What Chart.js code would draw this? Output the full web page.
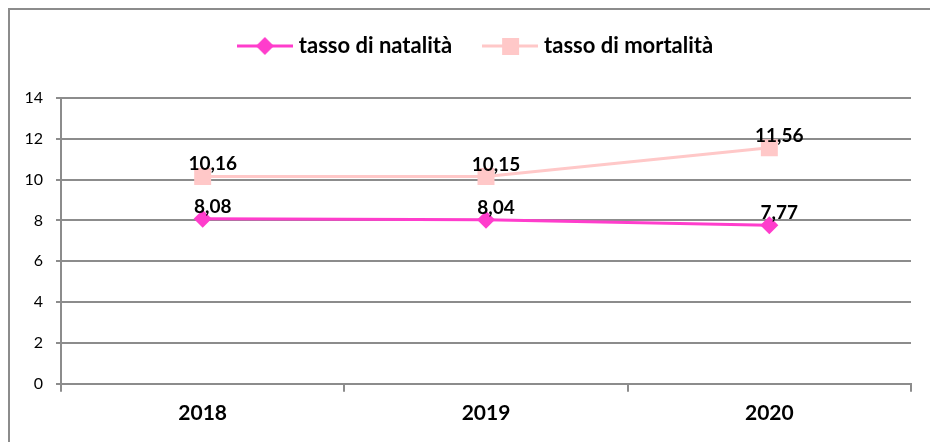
<!DOCTYPE html>
<html>
<head>
<meta charset="utf-8">
<script src="https://cdn.jsdelivr.net/npm/chart.js@4/dist/chart.umd.min.js"></script>
<style>
    html, body { margin: 0; padding: 0; background: #fff; overflow: hidden; }
    #wrap { position: relative; width: 930px; height: 442px; }
    #frame {
        position: absolute; left: 8px; top: 8px; width: 940px; height: 450px;
        border-left: 2px solid #8c8c8c; border-top: 2px solid #8c8c8c;
        pointer-events: none;
    }
</style>
</head>
<body>
<div id="wrap">
    <canvas id="chart" width="930" height="442"></canvas>
    <div id="frame"></div>
</div>
<script>
const years = ['2018', '2019', '2020'];
const natalita = [8.08, 8.04, 7.77];
const mortalita = [10.16, 10.15, 11.56];
const yTicks = [0, 2, 4, 6, 8, 10, 12, 14];

const PINK = '#ff3dcc';
const ROSE = '#ffc8c8';
const FONT = 'Lato, "Open Sans", sans-serif';

// line + marker image used as legend symbol
function legendMarker(color, shape) {
    const c = document.createElement('canvas');
    c.width = 56;
    c.height = 20;
    const ctx = c.getContext('2d');
    ctx.strokeStyle = color;
    ctx.lineWidth = 3;
    ctx.beginPath();
    ctx.moveTo(0, 10);
    ctx.lineTo(56, 10);
    ctx.stroke();
    ctx.fillStyle = color;
    ctx.beginPath();
    if (shape === 'diamond') {
        ctx.moveTo(28, 1); ctx.lineTo(37, 10); ctx.lineTo(28, 19); ctx.lineTo(19, 10);
    } else {
        ctx.rect(20, 2, 17, 17);
    }
    ctx.fill();
    return c;
}
const markers = [legendMarker(PINK, 'diamond'), legendMarker(ROSE, 'square')];

const valueLabels = {
    id: 'valueLabels',
    beforeInit(chart) {
        // leave room between legend and plot area
        const fit = chart.legend.fit;
        chart.legend.fit = function () {
            fit.call(this);
            this.height += 31;
        };
    },
    afterLayout(chart) {
        chart.legend.left += 22;
        chart.legend.right += 22;
    },
    afterDatasetsDraw(chart) {
        const ctx = chart.ctx;
        ctx.save();
        ctx.font = 'bold 19px ' + FONT;
        ctx.fillStyle = '#000';
        ctx.textAlign = 'center';
        ctx.textBaseline = 'alphabetic';
        chart.data.datasets.forEach((ds, i) => {
            chart.getDatasetMeta(i).data.forEach((pt, j) => {
                ctx.fillText(ds.data[j].toFixed(2).replace('.', ','), pt.x + 10, pt.y - 6);
            });
        });
        ctx.restore();
    }
};

new Chart(document.getElementById('chart'), {
    type: 'line',
    data: {
        labels: years,
        datasets: [{
            label: 'tasso di natalità',
            data: natalita,
            borderColor: PINK,
            backgroundColor: PINK,
            borderWidth: 3,
            pointStyle: 'rectRot',
            pointRadius: 9,
            pointBorderWidth: 0,
            tension: 0
        }, {
            label: 'tasso di mortalità',
            data: mortalita,
            borderColor: ROSE,
            backgroundColor: ROSE,
            borderWidth: 3,
            pointStyle: 'rect',
            pointRadius: 12,
            pointBorderWidth: 0,
            tension: 0
        }]
    },
    options: {
        responsive: false,
        animation: false,
        layout: { padding: { top: 0, right: 19, bottom: 7, left: 0 } },
        plugins: {
            tooltip: { enabled: false },
            legend: {
                position: 'top',
                labels: {
                    usePointStyle: true,
                    pointStyleWidth: 46,
                    padding: 35,
                    color: '#000',
                    font: { family: FONT, size: 22, weight: 'bold' },
                    generateLabels: chart => Chart.defaults.plugins.legend.labels.generateLabels(chart)
                        .map((item, i) => ({ ...item, pointStyle: markers[i] }))
                }
            }
        },
        scales: {
            x: {
                offset: true,
                grid: { offset: true, drawOnChartArea: false, drawTicks: true, tickLength: 8, color: '#8c8c8c', lineWidth: 2 },
                border: { color: '#8c8c8c', width: 2 },
                ticks: { color: '#000', padding: 9, font: { family: FONT, size: 21, weight: 'bold' } }
            },
            y: {
                min: yTicks[0],
                max: yTicks[yTicks.length - 1],
                afterFit(scale) { scale.width = 61; },
                grid: { color: '#8c8c8c', lineWidth: 2, tickLength: 5 },
                border: { color: '#8c8c8c', width: 2 },
                ticks: { stepSize: yTicks[1] - yTicks[0], color: '#000', padding: 13, font: { family: FONT, size: 16 } }
            }
        }
    },
    plugins: [valueLabels]
});
</script>
</body>
</html>
